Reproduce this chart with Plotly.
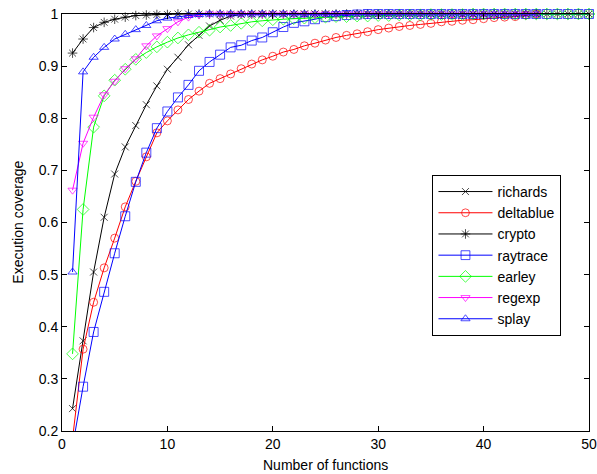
import plotly.graph_objects as go

series_names = ["richards", "deltablue", "crypto", "raytrace", "earley", "regexp", "splay"]

richards = [0.243, 0.373, 0.505, 0.61, 0.693, 0.745, 0.786, 0.826, 0.862, 0.894,
            0.917, 0.941, 0.959, 0.977, 0.988, 0.996, 0.999] + [1.0] * 28
deltablue = [0.185, 0.357, 0.447, 0.513, 0.570, 0.630, 0.679, 0.726, 0.772, 0.795,
             0.816, 0.836, 0.852, 0.867, 0.876, 0.885, 0.895, 0.904, 0.912, 0.919,
             0.927, 0.932, 0.939, 0.944, 0.950, 0.955, 0.959, 0.962, 0.966, 0.970,
             0.973, 0.976, 0.978, 0.980, 0.982, 0.985, 0.986, 0.988, 0.989, 0.991,
             0.993, 0.994, 0.995, 0.998, 1.0]
crypto = [0.925, 0.952, 0.974, 0.984, 0.990, 0.994, 0.997, 0.998, 0.999, 0.999] + [1.0] * 40
raytrace = [0.17, 0.285, 0.39, 0.467, 0.541, 0.612, 0.678, 0.734, 0.781, 0.813,
            0.840, 0.864, 0.891, 0.908, 0.922, 0.936, 0.940, 0.949, 0.955, 0.965,
            0.975, 0.983, 0.986, 0.990, 0.994, 0.996, 0.998, 0.999] + [1.0] * 22
earley = [0.348, 0.625, 0.783, 0.843, 0.873, 0.894, 0.913, 0.926, 0.937, 0.946,
          0.954, 0.960, 0.965, 0.969, 0.975, 0.978, 0.982, 0.985, 0.987, 0.989,
          0.990, 0.991, 0.992, 0.993, 0.994, 0.995, 0.995, 0.996, 0.996, 0.997,
          0.997, 0.998, 0.998, 0.998, 0.999, 0.999, 0.999, 0.999] + [1.0] * 12
regexp = [0.662, 0.752, 0.802, 0.845, 0.871, 0.895, 0.914, 0.939, 0.958, 0.972,
          0.985, 0.994, 0.998] + [1.0] * 32
splay = [0.505, 0.889, 0.917, 0.936, 0.952, 0.961, 0.970, 0.978, 0.987, 0.992,
         0.995, 0.997, 0.999] + [1.0] * 32

x_ticks = [0, 10, 20, 30, 40, 50]
y_ticks = [0.2, 0.3, 0.4, 0.5, 0.6, 0.7, 0.8, 0.9, 1.0]

data = [richards, deltablue, crypto, raytrace, earley, regexp, splay]
colors = ["#000000", "#ff0000", "#000000", "#0000ff", "#00ff00", "#ff00ff", "#0000ff"]
symbols = ["x-thin-open", "circle-open", "asterisk-open", "square-open",
           "diamond-open", "triangle-down-open", "triangle-up-open"]
sizes = [7, 8, 8, 9, 9, 8, 8]

Y_MIN, Y_MAX = 0.2, 1.0
FONT = "Liberation Sans, Arial, Helvetica, sans-serif"

fig = go.Figure()
for name, vals, c, sym, s in zip(series_names, data, colors, symbols, sizes):
    xs = list(range(1, len(vals) + 1))
    msizes = [s if v >= Y_MIN else 0 for v in vals]
    fig.add_trace(go.Scatter(
        x=xs, y=vals, name=name, mode="lines+markers",
        line=dict(color=c, width=1),
        marker=dict(symbol=sym, size=msizes, color=c, line=dict(color=c, width=1)),
        cliponaxis=False,
    ))

axis_common = dict(
    showline=True, linecolor="black", linewidth=1, mirror="ticks",
    ticks="inside", ticklen=5, tickcolor="black", tickwidth=1,
    showgrid=False, zeroline=False, automargin=False,
    ticklabeloverflow="allow",
    tickfont=dict(family=FONT, size=14, color="black"),
)

fig.update_layout(
    width=597, height=474,
    margin=dict(l=62, r=8, t=14, b=43),
    paper_bgcolor="white", plot_bgcolor="white",
    font=dict(family=FONT, size=14, color="black"),
    xaxis=dict(range=[0, 50], tickvals=x_ticks, **axis_common),
    yaxis=dict(range=[Y_MIN, Y_MAX], tickvals=y_ticks,
               ticktext=[("%g" % v) for v in y_ticks], **axis_common),
    legend=dict(x=0.703, y=0.614, xanchor="left", yanchor="top",
                bgcolor="white", bordercolor="black", borderwidth=1,
                font=dict(family=FONT, size=14, color="black"),
                itemwidth=54, tracegroupgap=0),
    showlegend=True,
    annotations=[
        dict(text="Number of functions", xref="paper", yref="paper",
             x=0.5, y=-0.0815, xanchor="center", yanchor="middle", showarrow=False,
             font=dict(family=FONT, size=14, color="black")),
        dict(text="Execution coverage", xref="paper", yref="paper",
             x=-0.085, y=0.5, xanchor="center", yanchor="middle", showarrow=False,
             textangle=-90, font=dict(family=FONT, size=14, color="black")),
    ],
)

fig.write_html("out.html", config={"displayModeBar": False},
               post_script="document.body.style.margin='0';document.body.style.padding='0';")
